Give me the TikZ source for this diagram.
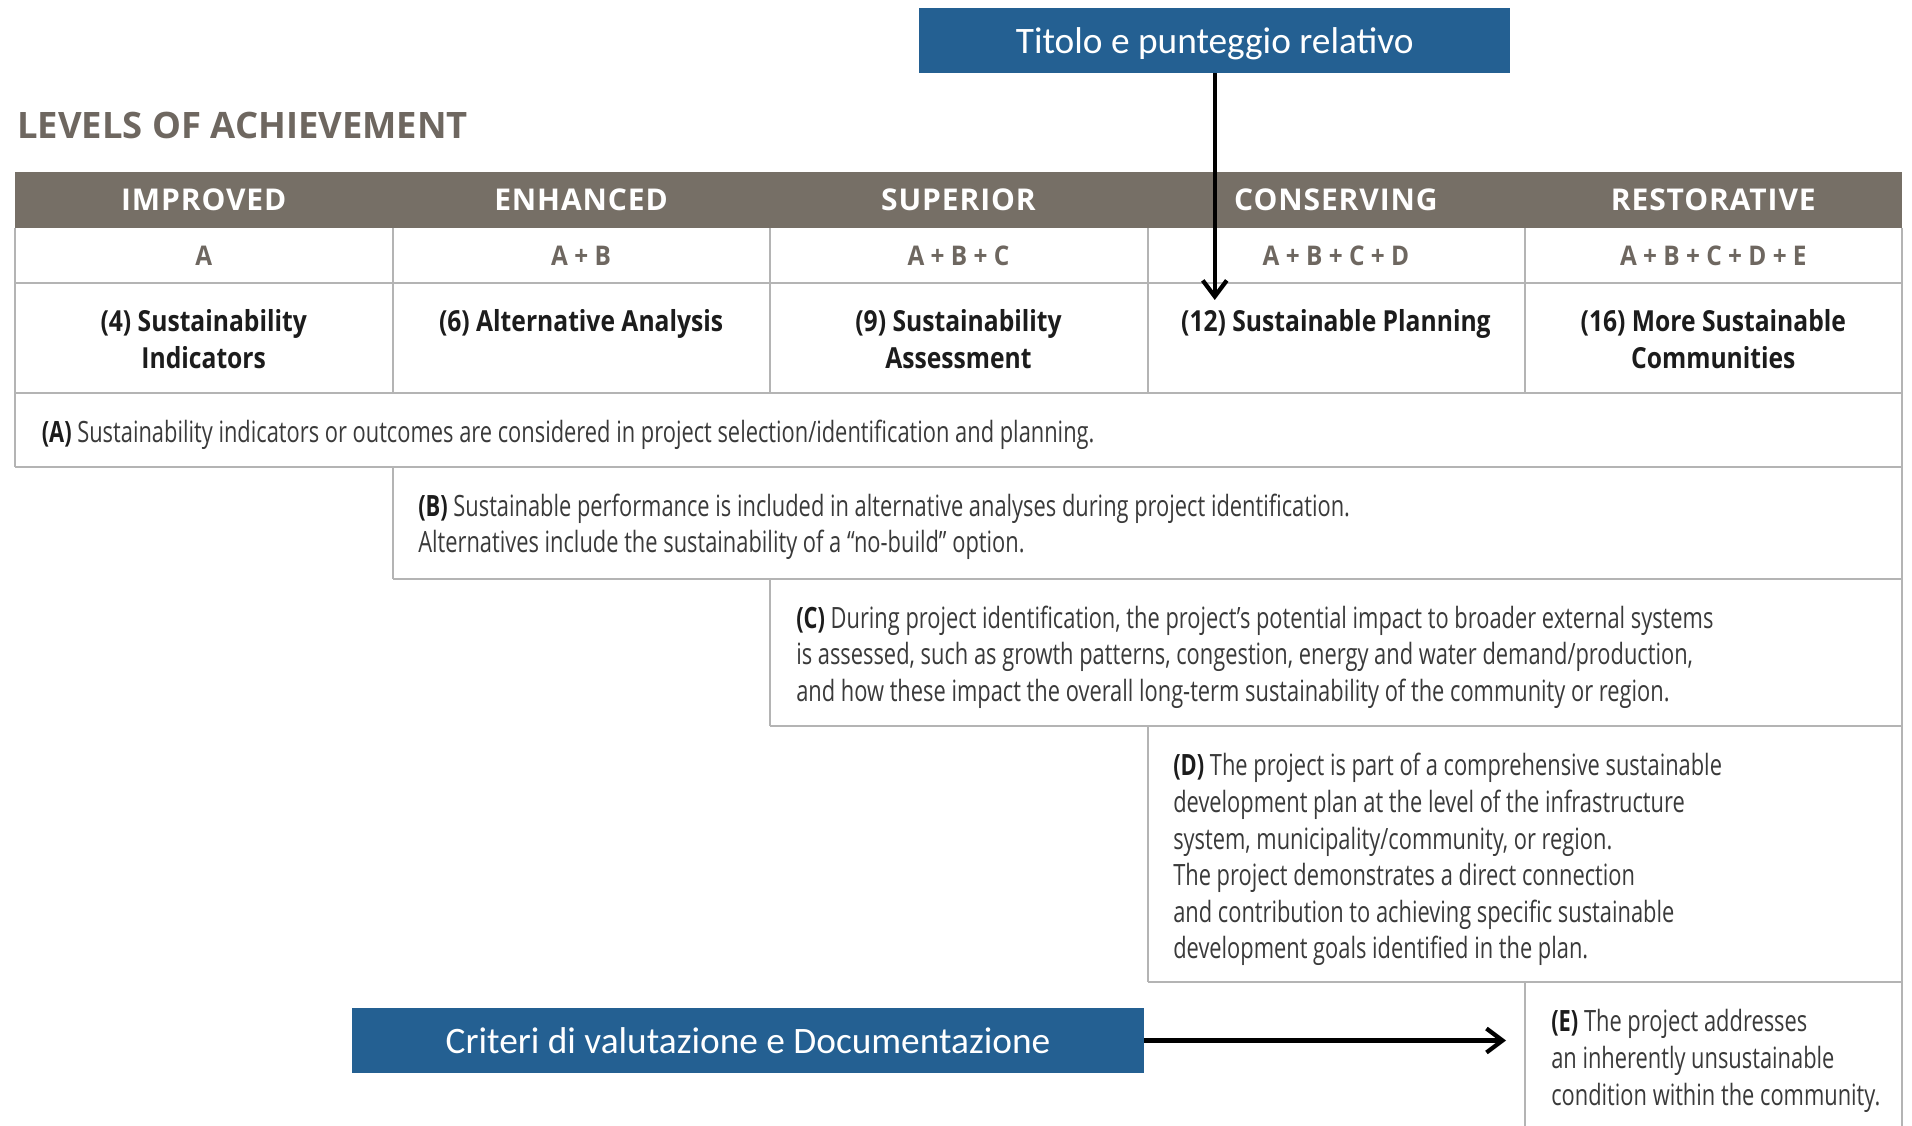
\documentclass[tikz,border=0pt]{standalone}
\usepackage{fontspec}
\setmainfont{Open Sans}
\newfontfamily\cond{Open Sans}[FakeStretch=0.745]
\newfontfamily\condb{Open Sans}[FakeStretch=0.85]
\newfontfamily\condl{Open Sans}[FakeStretch=0.9]
\newfontfamily\hdrfont{Open Sans}[LetterSpace=3]
\newfontfamily\calib{Carlito}
\usetikzlibrary{arrows.meta}
\definecolor{hdr}{RGB}{118,111,102}
\definecolor{blu}{RGB}{36,96,146}
\definecolor{gridc}{RGB}{180,180,180}
\definecolor{bodyc}{RGB}{58,58,58}
\definecolor{darkc}{RGB}{28,28,28}
\definecolor{lvl}{RGB}{110,103,96}
\tikzset{
  gridline/.style={draw=gridc, line width=1.3pt},
  hdrtext/.style={anchor=base, inner sep=0pt, text=white, font=\hdrfont\fontsize{22.5}{26}\selectfont\bfseries},
  lettext/.style={anchor=base, inner sep=0pt, text=lvl, font=\condl\fontsize{20.3}{24}\selectfont\bfseries},
  titletext/.style={anchor=base, inner sep=0pt, align=center, text=darkc, font=\condb\fontsize{21.75}{27.45}\selectfont\bfseries},
  bodytext/.style={anchor=base west, inner sep=0pt, align=left, text=bodyc, font=\cond\fontsize{22}{27.45}\selectfont},
  bluebox/.style={fill=blu, text=white, inner sep=0pt, text depth=0pt, font=\calib\fontsize{28}{30}\selectfont},
  arr/.style={line width=3.2pt, -{Straight Barb[length=12pt, width=18pt, line width=3.2pt]}},
}
\newcommand{\lab}[1]{{\bfseries\color{darkc}#1}}
\begin{document}
\begin{tikzpicture}[x=0.75pt, y=-0.75pt]
\useasboundingbox (0,0) rectangle (1912,1126);
\fill[white] (0,0) rectangle (1912,1126);

% title
\node[anchor=base west, inner sep=0pt, text=lvl, font=\fontsize{27.3}{30}\selectfont\bfseries] (title) at (17,139) {LEVELS OF ACHIEVEMENT};

% header band
\fill[hdr] (15,172) rectangle (1902,228);

% grid
\draw[gridline] (15,228) -- (15,467);
\draw[gridline] (1902,228) -- (1902,1126);
\draw[gridline] (15,283) -- (1902,283);
\draw[gridline] (15,393) -- (1902,393);
\draw[gridline] (15,467) -- (1902,467);
\draw[gridline] (393,579) -- (1902,579);
\draw[gridline] (770,726) -- (1902,726);
\draw[gridline] (1148,982) -- (1902,982);
\draw[gridline] (393,228) -- (393,393);
\draw[gridline] (770,228) -- (770,393);
\draw[gridline] (1148,228) -- (1148,393);
\draw[gridline] (1525,228) -- (1525,393);
\draw[gridline] (393,467) -- (393,579);
\draw[gridline] (770,579) -- (770,726);
\draw[gridline] (1148,726) -- (1148,982);
\draw[gridline] (1525,982) -- (1525,1126);

% header texts
\node[hdrtext] (h1) at (203.7,211) {IMPROVED};
\node[hdrtext] (h2) at (581.1,211) {ENHANCED};
\node[hdrtext] (h3) at (958.5,211) {SUPERIOR};
\node[hdrtext] (h4) at (1335.9,211) {CONSERVING};
\node[hdrtext] (h5) at (1713.3,211) {RESTORATIVE};

% letters
\node[lettext] (l1) at (203.7,266) {A};
\node[lettext] (l2) at (581.1,266) {A + B};
\node[lettext] (l3) at (958.5,266) {A + B + C};
\node[lettext] (l4) at (1335.9,266) {A + B + C + D};
\node[lettext] (l5) at (1713.3,266) {A + B + C + D + E};

% titles (base anchor = last line baseline)
\node[titletext] (t1) at (203.7,368.2) {(4) Sustainability\\Indicators};
\node[titletext] (t2) at (581.1,331.6) {(6) Alternative Analysis};
\node[titletext] (t3) at (958.5,368.2) {(9) Sustainability\\Assessment};
\node[titletext] (t4) at (1335.9,331.6) {(12) Sustainable Planning};
\node[titletext] (t5) at (1713.3,368.2) {(16) More Sustainable\\Communities};

% criteria (base anchor = last line baseline)
\node[bodytext] (ca) at (41.5,443) {\lab{(A)} Sustainability indicators or outcomes are considered in project selection/identification and planning.};
\node[bodytext] (cb) at (418,552.8) {\lab{(B)} Sustainable performance is included in alternative analyses during project identification.\\Alternatives include the sustainability of a “no-build” option.};
\node[bodytext] (cc) at (796,701.4) {\lab{(C)} During project identification, the project’s potential impact to broader external systems\\is assessed, such as growth patterns, congestion, energy and water demand/production,\\and how these impact the overall long-term sustainability of the community or region.};
\node[bodytext] (cd) at (1173,958.8) {\lab{(D)} The project is part of a comprehensive sustainable\\development plan at the level of the infrastructure\\system, municipality/community, or region.\\The project demonstrates a direct connection\\and contribution to achieving specific sustainable\\development goals identified in the plan.};
\node[bodytext] (ce) at (1551,1105) {\lab{(E)} The project addresses\\an inherently unsustainable\\condition within the community.};

% blue callouts
\node[bluebox, minimum width=443pt, minimum height=48.4pt] (tbox) at (1214.75,40.7) {Titolo e punteggio relativo};
\node[bluebox, minimum width=594pt, minimum height=48.75pt] (bbox) at (748,1040.5) {Criteri di valutazione e Documentazione};

\coordinate (ttip) at (1214.75,300);
\coordinate (btip) at (1506,1040.5);
\draw[arr] (tbox.south) -- (ttip);
\draw[arr] (bbox.east) -- (btip);
\end{tikzpicture}
\end{document}
